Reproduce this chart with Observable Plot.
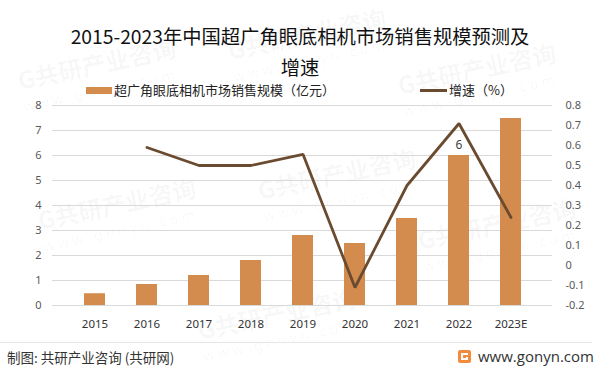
<!DOCTYPE html>
<html>
<head>
<meta charset="utf-8">
<script src="https://cdn.jsdelivr.net/npm/d3@7"></script>
<script src="https://cdn.jsdelivr.net/npm/@observablehq/plot@0.6"></script>
<style>
  html, body { margin: 0; padding: 0; background: #fff; }
  #root { position: relative; width: 600px; height: 375px; overflow: hidden; background: #fff;
          font-family: "Noto Sans CJK SC", "Noto Sans", sans-serif; }
  #wm { position: absolute; left: 0; top: 0; width: 600px; height: 375px; pointer-events: none; }
  #title { position: absolute; left: 0; top: 21px; width: 600px; text-align: center;
           font-size: 19.3px; line-height: 31px; color: #111; }
  #legend { position: absolute; top: 81px; left: 0; width: 600px; height: 18px; font-size: 13px; color: #222; }
  .lg { position: absolute; top: 0; white-space: nowrap; line-height: 18px; }
  .sw { display: inline-block; vertical-align: middle; margin-right: 2px; position: relative; top: -1px; }
  #chart { position: absolute; left: 0; top: 95px; }
  #sep { position: absolute; left: 0; top: 342px; width: 592px; height: 1px; background: #e6e6e6; }
  #src { position: absolute; left: 7px; top: 347px; font-size: 13.5px; color: #333; line-height: 20px; }
  #site { position: absolute; left: 478px; top: 346px; font-family: "Open Sans", "Noto Sans", sans-serif;
          font-size: 15px; color: #333; line-height: 20px; }
  #logo { position: absolute; left: 458px; top: 350px; }
</style>
</head>
<body>
<div id="root">
  <svg id="wm" width="600" height="375"></svg>
  <div id="title">2015-2023年中国超广角眼底相机市场销售规模预测及<br>增速</div>
  <div id="legend"></div>
  <div id="chart"></div>
  <div id="sep"></div>
  <div id="src">制图: 共研产业咨询 (共研网)</div>
  <svg id="logo" width="13" height="13" viewBox="0 0 13 13">
    <rect x="0" y="0" width="13" height="13" rx="2" fill="#F28B3C"/>
    <path d="M3 3 H10 V5 H5 V8 H8 V7 H10 V10 H3 Z" fill="#fff"/>
  </svg>
  <div id="site">www.gonyn.com</div>
</div>
<script>
// ---- data ----
const years = ["2015", "2016", "2017", "2018", "2019", "2020", "2021", "2022", "2023E"];
const sales = [0.47, 0.84, 1.2, 1.8, 2.8, 2.48, 3.48, 6, 7.48];
const growthYears = ["2016", "2017", "2018", "2019", "2020", "2021", "2022", "2023E"];
const growth = [0.59, 0.5, 0.5, 0.556, -0.11, 0.4, 0.71, 0.24];
const leftTicks = [0, 1, 2, 3, 4, 5, 6, 7, 8];
const rightTicks = [-0.2, -0.1, 0, 0.1, 0.2, 0.3, 0.4, 0.5, 0.6, 0.7, 0.8];
const labelYears = ["2022"];
const labelValues = [6];
const seriesNames = ["超广角眼底相机市场销售规模（亿元）", "增速（%）"];

const barColor = "#D38B4E";
const lineColor = "#6A4B30";

// right axis mapped onto left scale
const rMin = -0.2, rMax = 0.8, lMax = 8;
const toLeft = v => (v - rMin) / (rMax - rMin) * lMax;
const fromLeft = d => {
  const v = Math.round((d / lMax * (rMax - rMin) + rMin) * 10) / 10;
  return String(v === 0 ? 0 : v);
};

const barData = years.map((y, i) => ({year: y, value: sales[i]}));
const lineData = growthYears.map((y, i) => ({year: y, value: growth[i]}));
const labelData = labelYears.map((y, i) => ({year: y, value: labelValues[i]}));

const chart = Plot.plot({
  width: 600,
  height: 240,
  marginTop: 10,
  marginBottom: 30,
  marginLeft: 52,
  marginRight: 48,
  style: {fontFamily: "'Noto Sans', 'Noto Sans CJK SC', sans-serif", fontSize: "11px", background: "transparent", color: "#595959"},
  x: {domain: years, padding: 0.6, label: null},
  y: {domain: [0, 8], label: null},
  marks: [
    Plot.gridY(leftTicks, {stroke: "#d9d9d9", strokeOpacity: 1, strokeWidth: 1}),
    Plot.barY(barData, {x: "year", y: "value", fill: barColor}),
    Plot.line(lineData, {x: "year", y: d => toLeft(d.value), stroke: lineColor, strokeWidth: 2.8, strokeLinejoin: "miter"}),
    Plot.text(labelData, {x: "year", y: "value", text: d => String(d.value), dy: -7, lineAnchor: "bottom", fill: "#404040", fontSize: 12}),
    Plot.axisY(leftTicks, {anchor: "left", tickSize: 0, tickPadding: 11, fill: "#595959", label: null}),
    Plot.axisY(rightTicks.map(toLeft), {anchor: "right", tickSize: 0, tickPadding: 13, fill: "#595959", tickFormat: fromLeft, label: null}),
    Plot.axisX({tickSize: 0, tickPadding: 14, fill: "#333", fontSize: 11.5, label: null})
  ]
});
document.getElementById("chart").appendChild(chart);

// legend
const legend = document.getElementById("legend");
const l1 = document.createElement("div");
l1.className = "lg"; l1.style.left = "86px";
l1.innerHTML = `<span class="sw" style="width:26px;height:7px;background:${barColor}"></span>${seriesNames[0]}`;
const l2 = document.createElement("div");
l2.className = "lg"; l2.style.left = "420px";
l2.innerHTML = `<span class="sw" style="width:27px;height:3px;background:${lineColor}"></span>${seriesNames[1]}`;
legend.appendChild(l1); legend.appendChild(l2);

// watermark (kept fully inside the frame)
const wm = d3.select("#wm");
const spots = [[20, 90], [230, 60], [400, 95], [40, 230], [260, 200], [420, 250], [200, 340]];
spots.forEach(([x, y]) => {
  const g = wm.append("g").attr("transform", `translate(${x},${y}) rotate(-12)`);
  g.append("text").text("G共研产业咨询").attr("font-size", 24).attr("font-weight", 700)
    .attr("fill", "#000").attr("fill-opacity", 0.04).attr("font-family", "Noto Sans CJK SC");
  g.append("text").text("w w w . g o n y n . c o m").attr("y", 22).attr("font-size", 14)
    .attr("fill", "#000").attr("fill-opacity", 0.035).attr("font-family", "Noto Sans");
});
</script>
</body>
</html>
